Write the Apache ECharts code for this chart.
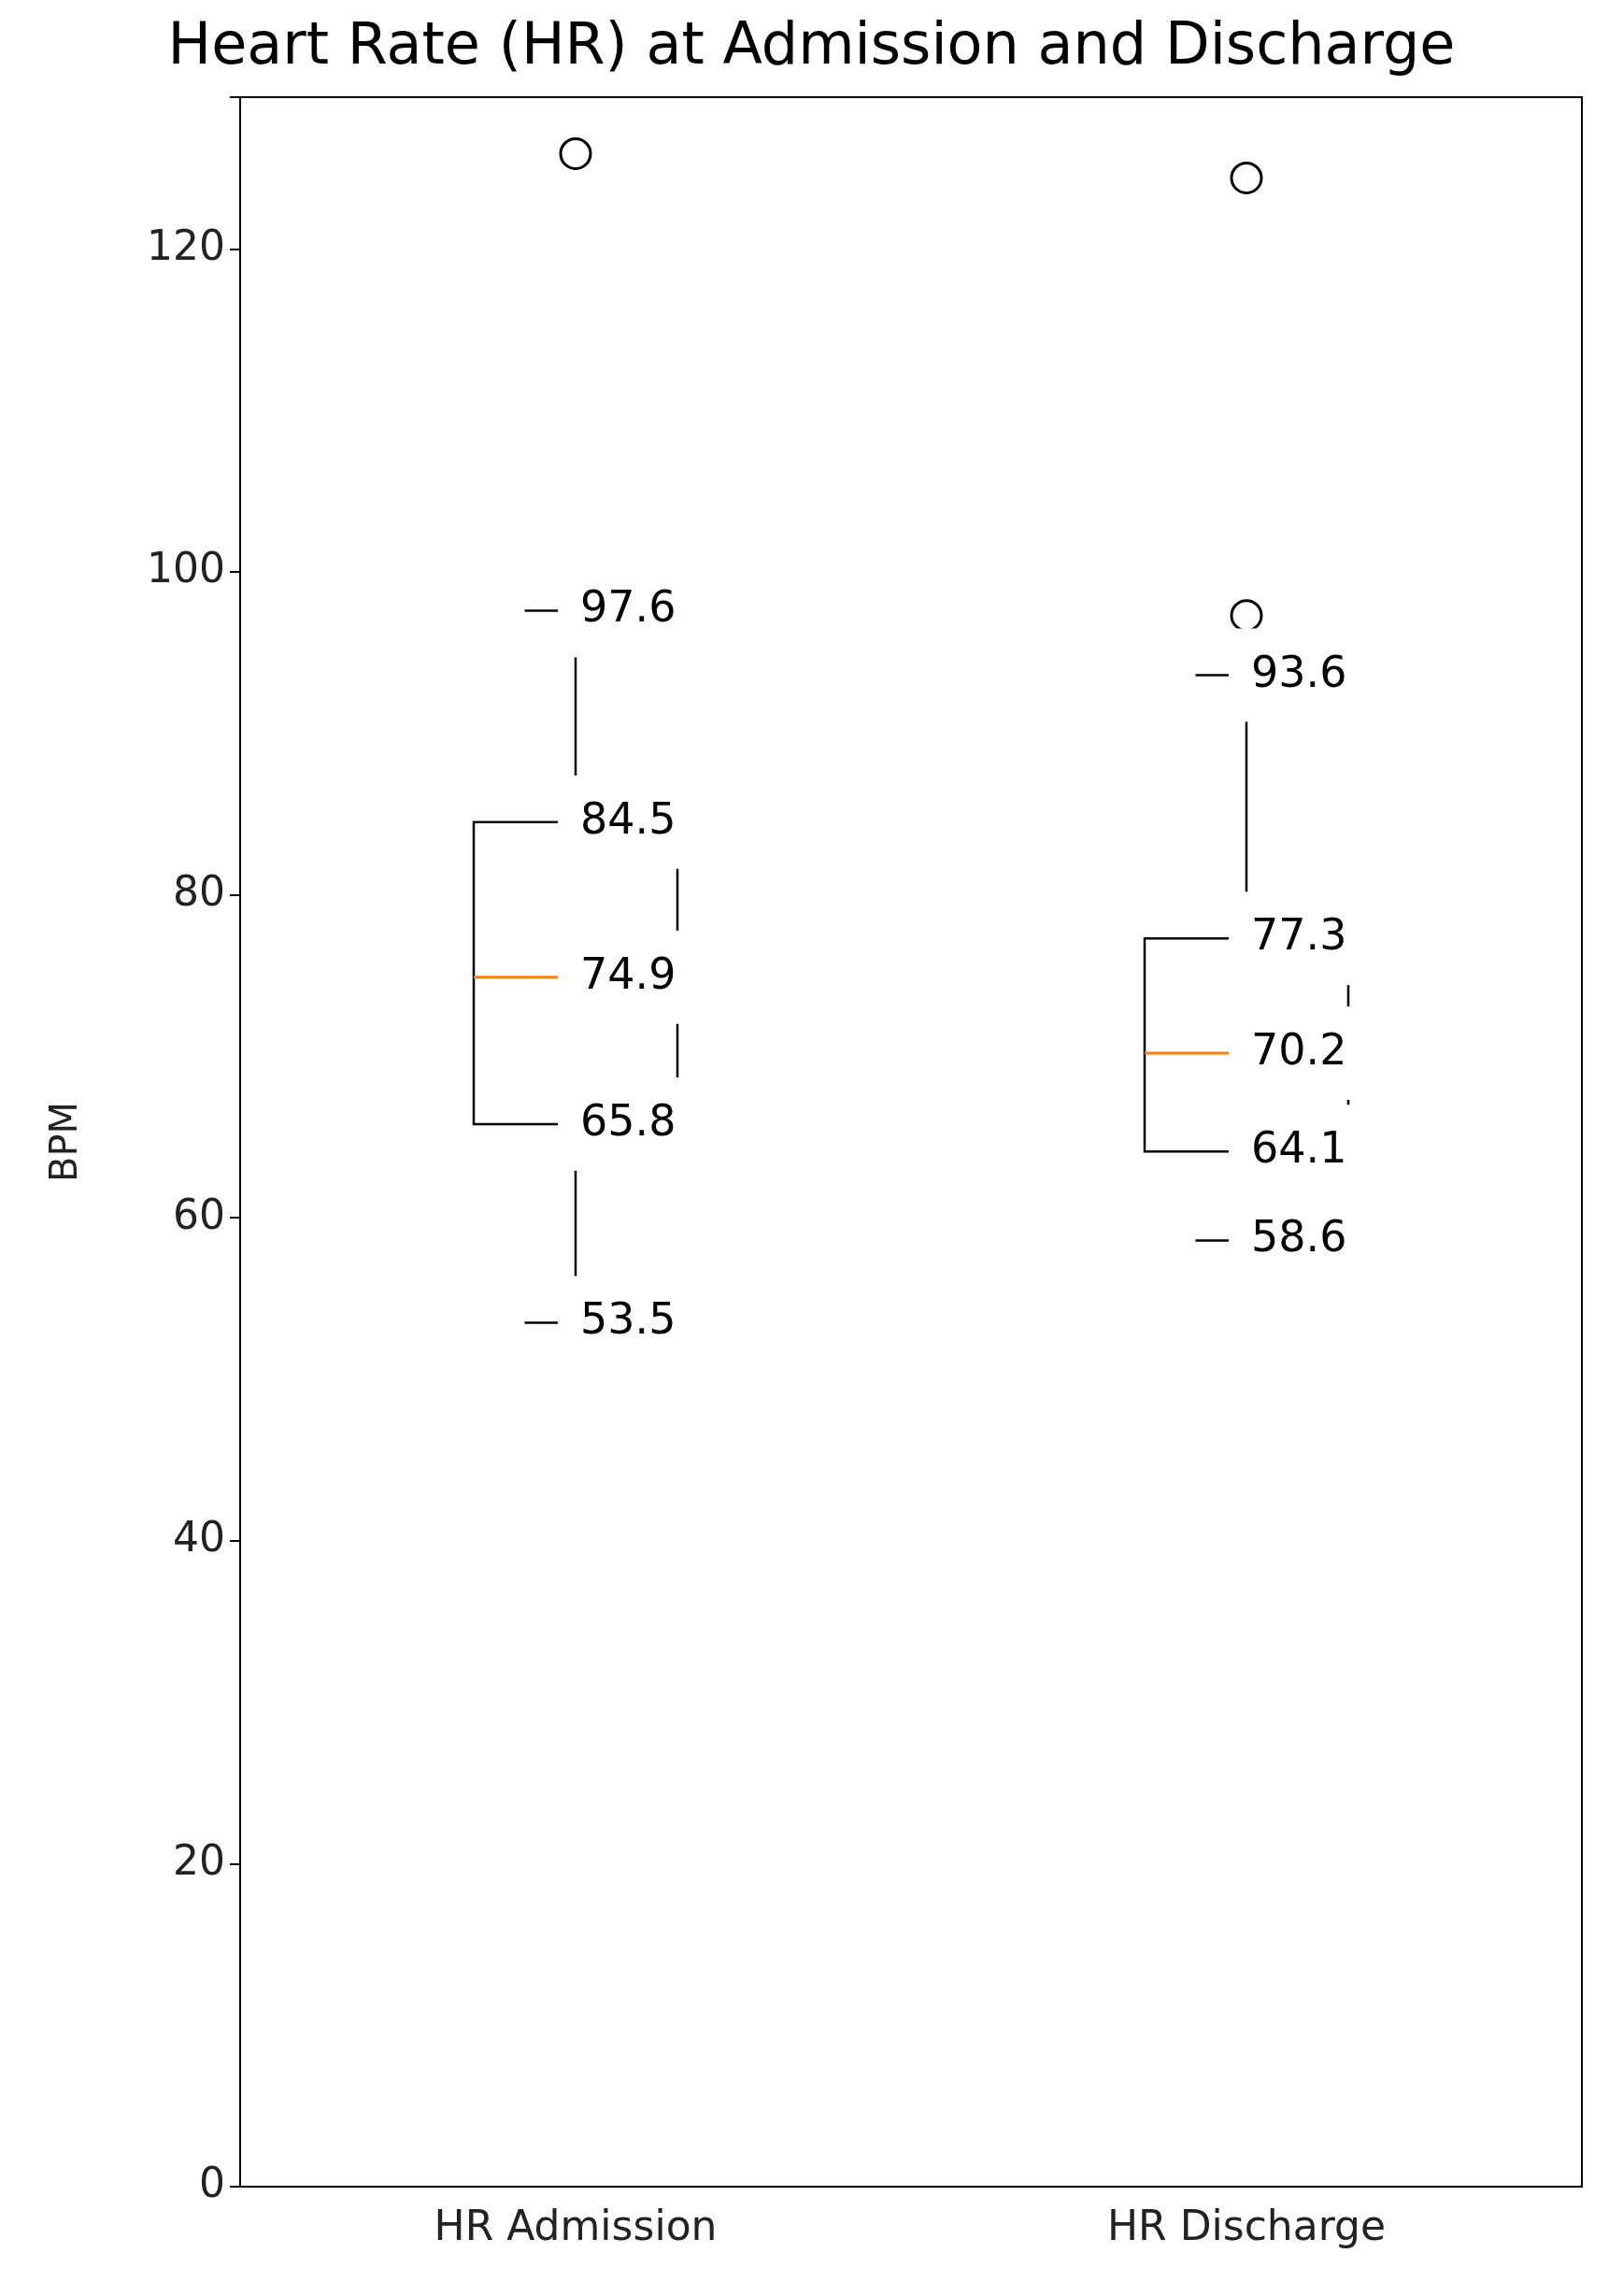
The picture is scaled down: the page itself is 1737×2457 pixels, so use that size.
<!DOCTYPE html>
<html>
<head>
<meta charset="utf-8">
<script src="https://cdn.jsdelivr.net/npm/echarts@6/dist/echarts.min.js"></script>
<style>
  html, body { margin: 0; padding: 0; background: #fff; }
  #chart { width: 1737px; height: 2457px; }
</style>
</head>
<body>
<div id="chart"></div>
<script>
// data
const categories = ['HR Admission', 'HR Discharge']
const boxStats = [
    [53.5, 65.8, 74.9, 84.5, 97.6],
    [58.6, 64.1, 70.2, 77.3, 93.6]
]
const outliers = [
    [0, 125.9],
    [1, 124.4],
    [1, 97.3]
]

const font = 'DejaVu Sans'

// one label per stat value, white box hides the lines behind it (like the original)
let labelPts = []
boxStats.forEach((s, i) => s.forEach(v => labelPts.push([i, v])))

const chart = echarts.init(document.getElementById('chart'))

const boxHalf = 109
const black = { stroke: '#000', lineWidth: 2.5 }

let renderBox = (params, api) => {
    let i = api.value(0)
    let x = api.coord([i, 0])[0]
    let y = [1, 2, 3, 4, 5].map(k => api.coord([i, api.value(k)])[1])
    let line = (x1, y1, x2, y2, style) => ({ type: 'line', shape: { x1, y1, x2, y2 }, style })
    return {
        type: 'group',
        children: [
            line(x, y[0], x, y[1], black),
            line(x, y[3], x, y[4], black),
            line(x - boxHalf / 2, y[0], x + boxHalf / 2, y[0], black),
            line(x - boxHalf / 2, y[4], x + boxHalf / 2, y[4], black),
            { type: 'rect', shape: { x: x - boxHalf, y: y[3], width: 2 * boxHalf, height: y[1] - y[3] },
              style: { fill: 'none', stroke: '#000', lineWidth: 2.5 } },
            line(x - boxHalf, y[2], x + boxHalf, y[2], { stroke: '#ff7f0e', lineWidth: 3 })
        ]
    }
}

const option = {
    animation: false,
    backgroundColor: '#fff',
    title: {
        text: 'Heart Rate (HR) at Admission and Discharge',
        left: 'center',
        top: 16,
        textStyle: { fontFamily: font, fontSize: 62, fontWeight: 'normal', color: '#000' }
    },
    grid: {
        left: 257, right: 44, top: 104, bottom: 117,
        show: true, borderColor: '#000', borderWidth: 2, backgroundColor: 'transparent'
    },
    xAxis: {
        type: 'category',
        data: categories,
        axisLine: { lineStyle: { color: '#000', width: 2 } },
        axisTick: { alignWithLabel: true, length: 11, lineStyle: { color: '#000', width: 2 } },
        axisLabel: { fontFamily: font, fontSize: 44, color: '#222', margin: 24 },
        splitLine: { show: false }
    },
    yAxis: {
        type: 'value',
        min: 0,
        max: 129.4,
        interval: 20,
        name: 'BPM',
        nameLocation: 'middle',
        nameGap: 165,
        nameTextStyle: { fontFamily: font, fontSize: 40, color: '#222' },
        axisLine: { show: true, lineStyle: { color: '#000', width: 2 } },
        axisTick: { show: true, length: 11, lineStyle: { color: '#000', width: 2 } },
        axisLabel: {
            fontFamily: font, fontSize: 44, color: '#222', margin: 16,
            formatter: v => (v % 20 === 0 ? v : '')
        },
        splitLine: { show: false }
    },
    series: [
        {
            type: 'custom',
            renderItem: renderBox,
            data: boxStats.map((s, i) => [i, ...s]),
            encode: { x: 0, y: [1, 2, 3, 4, 5] },
            z: 2
        },
        {
            type: 'scatter',
            data: outliers,
            symbol: 'circle',
            symbolSize: 32,
            z: 3,
            itemStyle: { color: 'transparent', borderColor: '#000', borderWidth: 3, opacity: 1 }
        },
        {
            type: 'scatter',
            data: labelPts,
            symbolSize: 0,
            z: 5,
            itemStyle: { opacity: 1 },
            label: {
                show: true,
                position: 'right',
                distance: -19,
                formatter: p => p.value[1].toFixed(1),
                fontFamily: font,
                fontSize: 46,
                color: '#000',
                backgroundColor: '#fff',
                padding: [27, 14, 27, 24]
            }
        }
    ]
}

chart.setOption(option)
window.addEventListener('resize', chart.resize)
</script>
</body>
</html>
